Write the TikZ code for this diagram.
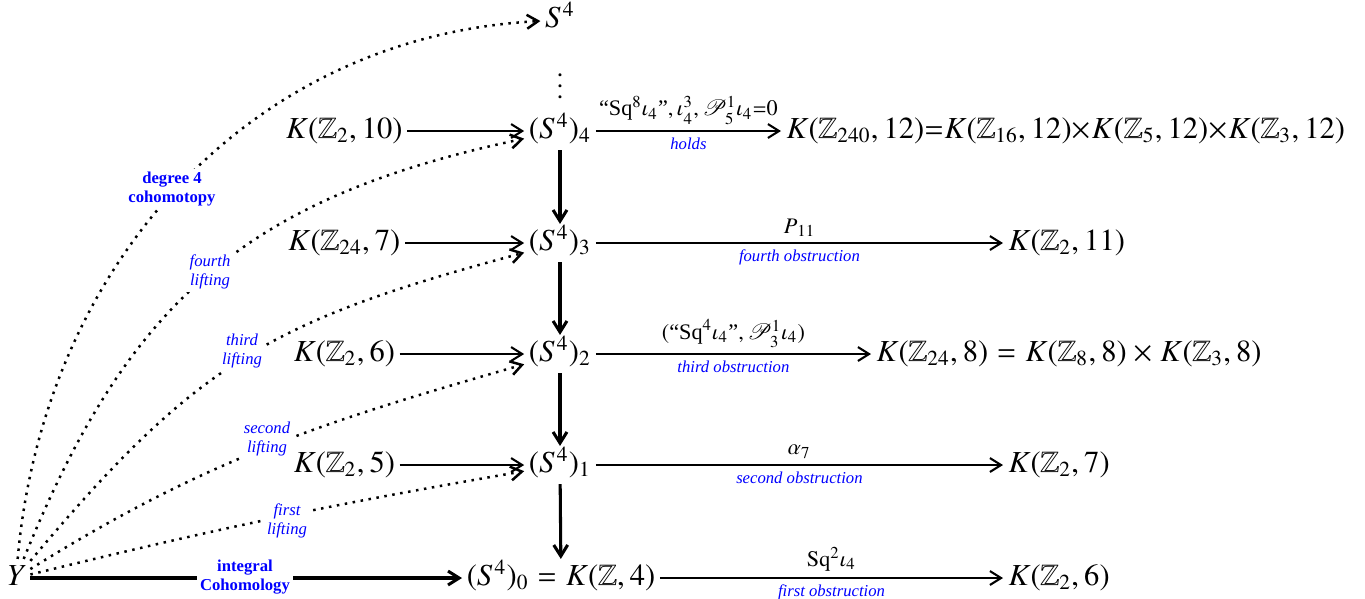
\documentclass[tikz,border=0pt]{standalone}
\usepackage{amsmath}
\usepackage{txfonts}
\usepackage{mathrsfs}
\usepackage{fontspec}
\setmainfont{Liberation Serif}
\usetikzlibrary{arrows.meta}
\newcommand{\Sfour}{S^{\mkern-2mu4}}
\begin{document}
\begin{tikzpicture}[x=0.36pt,y=-0.36pt,
  obj/.style={inner sep=1.5pt,text height=1.7ex,text depth=0.55ex,font=\fontsize{11}{13}\selectfont},
  arr/.style={-{Straight Barb[length=4pt,width=5pt]},line width=0.75pt},
  varr/.style={arr,line width=1.1pt},
  dotarr/.style={-{Straight Barb[length=4pt,width=5pt]},line width=0.9pt,dotted},
  toplab/.style={above,font=\footnotesize,inner sep=2pt},
  botlab/.style={below,font=\fontsize{6}{7}\selectfont\itshape,text=blue,inner sep=2pt},
  curvlab/.style={font=\fontsize{6}{7}\selectfont\itshape,text=blue,fill=white,align=center,inner sep=1pt},
  boldlab/.style={font=\fontsize{6}{7}\selectfont\bfseries,text=blue,fill=white,align=center,inner sep=1pt}]
\useasboundingbox (0,0) rectangle (1365,598);
\node[obj] (Y) at (16,578) {$Y$};
\node[obj] (S4) at (560,20) {$\Sfour$};
\node[inner sep=0pt] (vd) at (560,78) {$\vdots$};
\node[obj] (T4) at (560,131) {$(\Sfour)_4$};
\node[obj] (T3) at (560,243) {$(\Sfour)_3$};
\node[obj] (T2) at (560,354) {$(\Sfour)_2$};
\node[obj] (T1) at (560,465) {$(\Sfour)_1$};
\node[obj] (B) at (561,578) {$(\Sfour)_0=K(\mathbb{Z},4)$};
\node[obj] (K4) at (344,131) {$K(\mathbb{Z}_2,10)$};
\node[obj] (K3) at (344,243) {$K(\mathbb{Z}_{24},7)$};
\node[obj] (K2) at (344,354) {$K(\mathbb{Z}_2,6)$};
\node[obj] (K1) at (344,465) {$K(\mathbb{Z}_2,5)$};
\node[obj,anchor=west] (R4) at (781,131) {$K(\mathbb{Z}_{240},12){=}K(\mathbb{Z}_{16},12){\times}K(\mathbb{Z}_5,12){\times}K(\mathbb{Z}_3,12)$};
\node[obj,anchor=west] (R3) at (1003,243) {$K(\mathbb{Z}_2,11)$};
\node[obj,anchor=west] (R2) at (871,354) {$K(\mathbb{Z}_{24},8)=K(\mathbb{Z}_8,8)\times K(\mathbb{Z}_3,8)$};
\node[obj,anchor=west] (R1) at (1003,465) {$K(\mathbb{Z}_2,7)$};
\node[obj,anchor=west] (R0) at (1003,578) {$K(\mathbb{Z}_2,6)$};
% horizontal
\draw[arr] (K4) -- (T4);
\draw[arr] (K3) -- (T3);
\draw[arr] (K2) -- (T2);
\draw[arr] (K1) -- (T1);
\draw[arr] (T4) -- node[toplab] {$\text{``Sq}^8\iota_4\text{''},\iota_4^3,\mathscr{P}^1_5\iota_4{=}0$} node[botlab] {holds} (R4);
\draw[arr] (T3) -- node[toplab] {$P_{11}$} node[botlab] {fourth obstruction} (R3);
\draw[arr] (T2) -- node[toplab] {$(\text{``Sq}^4\iota_4\text{''},\mathscr{P}^1_3\iota_4)$} node[botlab] {third obstruction} (R2);
\draw[arr] (T1) -- node[toplab] {$\alpha_7$} node[botlab] {second obstruction} (R1);
\draw[arr] (B) -- node[toplab] {$\mathrm{Sq}^2\iota_4$} node[botlab] {first obstruction} (R0);
\draw[varr] (Y) -- (B);
% vertical
\draw[varr] (T4) -- (T3);
\draw[varr] (T3) -- (T2);
\draw[varr] (T2) -- (T1);
\draw[varr] (T1) -- (B);
% dotted curves
\draw[dotarr] (Y) to[out=85,in=183,looseness=1] (S4);
\draw[dotarr] (Y) to[out=68,in=192,looseness=1.1] (T4);
\draw[dotarr] (Y) to[out=50,in=195,looseness=1.15] (T3);
\draw[dotarr] (Y) to[out=32,in=196] (T2);
\draw[dotarr] (Y) to[bend left=2] (T1);
% labels on the connectors
\node[boldlab] (l0) at (245,577) {integral\\Cohomology};
\node[boldlab] (l5) at (172,189) {degree 4\\cohomotopy};
\node[curvlab] (l4) at (210,272) {fourth\\lifting};
\node[curvlab] (l3) at (242,351) {third\\lifting};
\node[curvlab] (l2) at (267,439) {second\\lifting};
\node[curvlab] (l1) at (287,521) {first\\lifting};
\end{tikzpicture}
\end{document}
